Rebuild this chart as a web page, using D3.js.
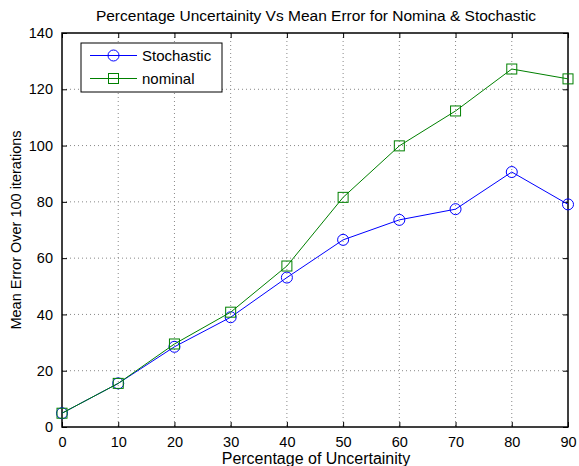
<!DOCTYPE html>
<html>
<head>
<meta charset="utf-8">
<script src="https://cdn.jsdelivr.net/npm/d3@7"></script>
<style>
  body { margin: 0; background: #fff; }
  svg { font-family: "Liberation Sans", Arial, Helvetica, sans-serif; }
</style>
</head>
<body>
<svg id="chart"></svg>
<script>
const uncertainty = [0, 10, 20, 30, 40, 50, 60, 70, 80, 90];
const stochastic = [4.9, 15.5, 28.5, 39.0, 53.1, 66.5, 73.6, 77.4, 90.6, 79.1];
const nominal = [4.9, 15.5, 29.5, 40.8, 57.2, 81.6, 99.9, 112.3, 127.2, 123.7];
const xTicks = [0, 10, 20, 30, 40, 50, 60, 70, 80, 90];
const yTicks = [0, 20, 40, 60, 80, 100, 120, 140];

const width = 579, height = 466;
const plotLeft = 62, plotRight = 568, plotTop = 33, plotBottom = 427;

const svg = d3.select('#chart')
    .attr('width', width)
    .attr('height', height);

const x = d3.scaleLinear().domain([0, 90]).range([plotLeft, plotRight]);
const y = d3.scaleLinear().domain([0, 140]).range([plotBottom, plotTop]);

// grid
const grid = svg.append('g');
grid.selectAll('.gx').data(xTicks.slice(1, -1)).enter().append('line')
    .attr('x1', d => x(d)).attr('x2', d => x(d))
    .attr('y1', plotTop).attr('y2', plotBottom)
    .style('stroke', '#888').style('stroke-width', 1)
    .style('stroke-dasharray', '1,3');
grid.selectAll('.gy').data(yTicks.slice(1, -1)).enter().append('line')
    .attr('y1', d => y(d)).attr('y2', d => y(d))
    .attr('x1', plotLeft).attr('x2', plotRight)
    .style('stroke', '#888').style('stroke-width', 1)
    .style('stroke-dasharray', '1,3');

// axes, ticks pointing inward on all sides
const axisStyle = g => {
    g.select('.domain').remove();
    g.selectAll('line').style('stroke', '#000');
    g.selectAll('text').style('font-size', '14.5px').style('fill', '#000');
};
svg.append('g').attr('transform', `translate(0,${plotBottom})`)
    .call(d3.axisBottom(x).tickValues(xTicks).tickSize(-5).tickPadding(10))
    .call(axisStyle);
svg.append('g').attr('transform', `translate(0,${plotTop})`)
    .call(d3.axisTop(x).tickValues(xTicks).tickSize(-5).tickFormat(''))
    .call(axisStyle);
svg.append('g').attr('transform', `translate(${plotLeft},0)`)
    .call(d3.axisLeft(y).tickValues(yTicks).tickSize(-5).tickPadding(9))
    .call(axisStyle);
svg.append('g').attr('transform', `translate(${plotRight},0)`)
    .call(d3.axisRight(y).tickValues(yTicks).tickSize(-5).tickFormat(''))
    .call(axisStyle);

svg.append('rect')
    .attr('x', plotLeft).attr('y', plotTop)
    .attr('width', plotRight - plotLeft).attr('height', plotBottom - plotTop)
    .style('fill', 'none').style('stroke', '#000').style('stroke-width', 1.5);

// series
const line = d3.line().x((d, i) => x(uncertainty[i])).y(d => y(d));
const series = [
    { name: 'Stochastic', values: stochastic, color: '#0000ff', marker: 'circle' },
    { name: 'nominal', values: nominal, color: '#008000', marker: 'square' }
];

function drawMarker(g, type, cx, cy, color) {
    if (type === 'circle') {
        g.append('circle').attr('cx', cx).attr('cy', cy).attr('r', 5.5)
            .style('fill', 'none').style('stroke', color).style('stroke-width', 1);
    } else {
        g.append('rect').attr('x', cx - 5).attr('y', cy - 5)
            .attr('width', 10).attr('height', 10)
            .style('fill', 'none').style('stroke', color).style('stroke-width', 1);
    }
}

for (const s of series) {
    const g = svg.append('g');
    g.append('path').datum(s.values).attr('d', line)
        .style('fill', 'none').style('stroke', s.color).style('stroke-width', 1);
    s.values.forEach((v, i) => drawMarker(g, s.marker, x(uncertainty[i]), y(v), s.color));
}

// legend
const legend = svg.append('g');
legend.append('rect')
    .attr('x', 81).attr('y', 43).attr('width', 141).attr('height', 49)
    .style('fill', '#fff').style('stroke', '#000').style('stroke-width', 1);
series.forEach((s, i) => {
    const ly = 55.5 + i * 23;
    legend.append('line').attr('x1', 90).attr('x2', 137).attr('y1', ly).attr('y2', ly)
        .style('stroke', s.color).style('stroke-width', 1);
    drawMarker(legend, s.marker, 113.5, ly, s.color);
    legend.append('text').attr('x', 142).attr('y', ly + 5)
        .style('font-size', '15px').text(s.name);
});

// labels
svg.append('text').attr('x', 316).attr('y', 21).attr('text-anchor', 'middle')
    .style('font-size', '15.5px')
    .text('Percentage Uncertainity Vs Mean Error for Nomina & Stochastic');
svg.append('text').attr('x', 316).attr('y', 464).attr('text-anchor', 'middle')
    .style('font-size', '16px')
    .text('Percentage of Uncertainity');
svg.append('text')
    .attr('transform', `translate(21,${(plotTop + plotBottom) / 2}) rotate(-90)`)
    .attr('text-anchor', 'middle')
    .style('font-size', '14.5px')
    .text('Mean Error Over 100 iterations');
</script>
</body>
</html>
